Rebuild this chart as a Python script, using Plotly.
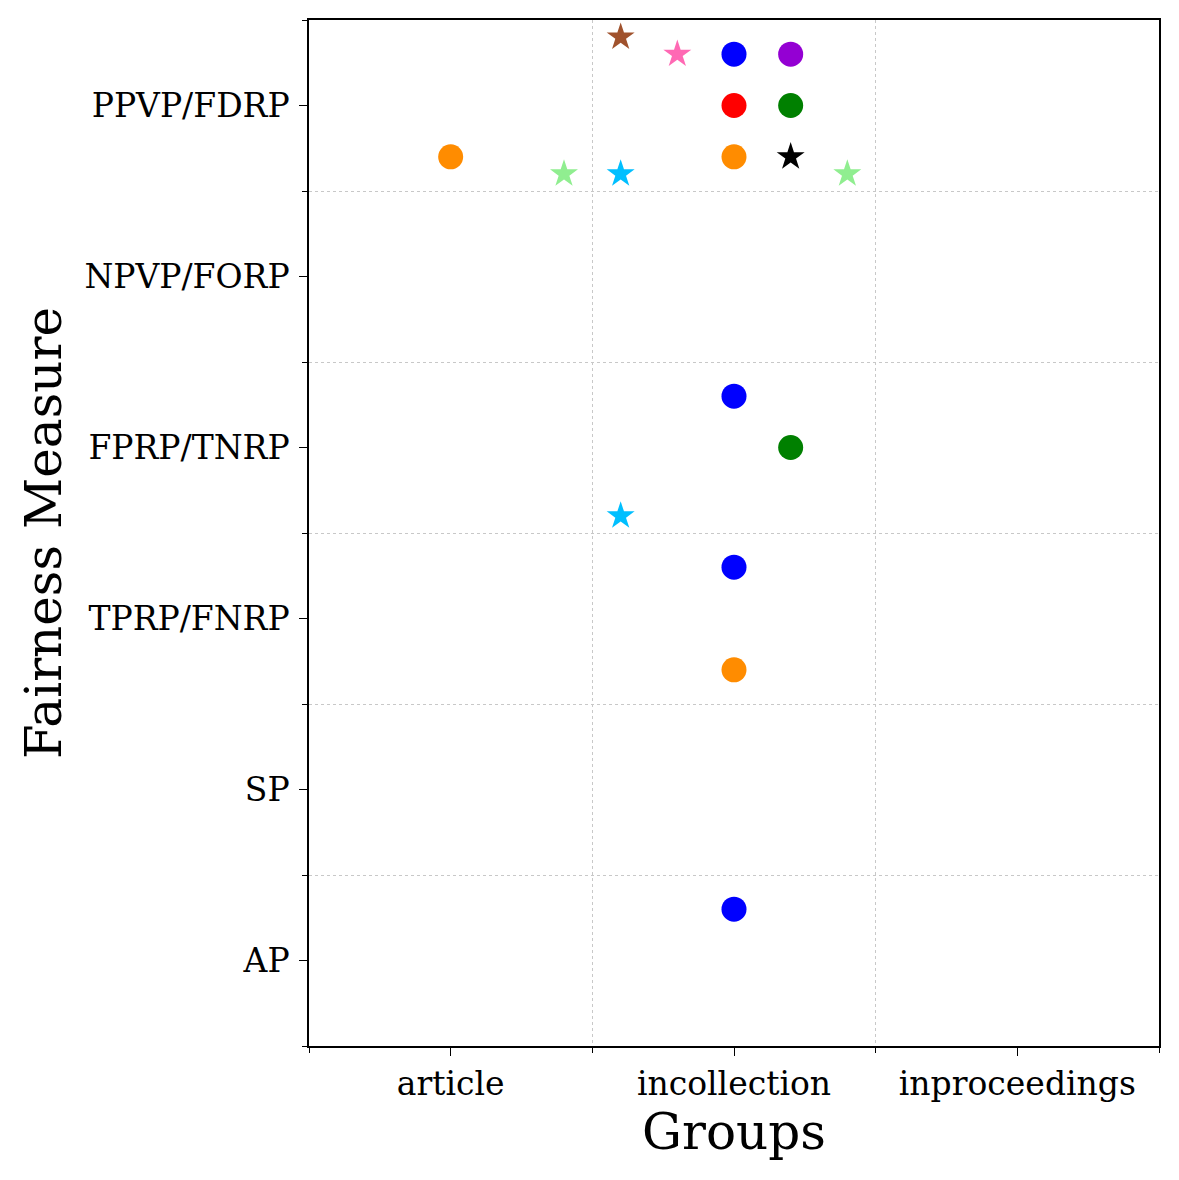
import plotly.graph_objects as go

groups = ["article", "incollection", "inproceedings"]
measures = ["AP", "SP", "TPRP/FNRP", "FPRP/TNRP", "NPVP/FORP", "PPVP/FDRP"]

# point positions (category index + offset)
x_pos = [0.6, 0.8, 1.0, 1.2, 1.0, 1.2, 0.0, 0.4, 0.6, 1.0, 1.2, 1.4, 1.0, 1.2, 0.6, 1.0, 1.0, 1.0]
y_pos = [5.4, 5.3, 5.3, 5.3, 5.0, 5.0, 4.7, 4.6, 4.6, 4.7, 4.7, 4.6, 3.3, 3.0, 2.6, 2.3, 1.7, 0.3]
colors = ["#A0522D", "#FF69B4", "blue", "#9400D3", "red", "green", "#FF8C00", "#90EE90",
          "#00BFFF", "#FF8C00", "black", "#90EE90", "blue", "green", "#00BFFF", "blue",
          "#FF8C00", "blue"]
symbols = ["star", "star", "circle", "circle", "circle", "circle", "circle", "star",
           "star", "circle", "star", "star", "circle", "circle", "star", "circle",
           "circle", "circle"]

fig = go.Figure()
for x, y, c, s in zip(x_pos, y_pos, colors, symbols):
    fig.add_trace(go.Scatter(
        x=[x], y=[y], mode="markers",
        marker=dict(color=c, symbol=s, size=25 if s == "circle" else 21,
                    line=dict(width=0)),
        showlegend=False))

font_fam = "DejaVu Serif"
fig.update_layout(
    width=1163, height=1164,
    margin=dict(l=301, r=10, t=11, b=126),
    paper_bgcolor="white", plot_bgcolor="white",
    font=dict(family=font_fam, color="black"),
)
fig.update_xaxes(
    range=[-0.5, 2.5], tickvals=list(range(len(groups))), ticktext=groups,
    showgrid=False, zeroline=False, showline=True, linecolor="black", linewidth=1.5,
    mirror=True, ticks="outside", ticklen=8, tickwidth=1.2, tickcolor="black",
    tickfont=dict(size=33, family=font_fam),
    title=dict(text="Groups", font=dict(size=50, family=font_fam), standoff=3),
    minor=dict(tick0=0.5, dtick=1, ticks="outside", ticklen=5, tickwidth=1.2,
               tickcolor="black", showgrid=True, gridcolor="#c8c8c8",
               griddash="dot", gridwidth=1.4),
)
fig.update_yaxes(
    range=[-0.5, 5.5], tickvals=list(range(len(measures))), ticktext=measures,
    showgrid=False, zeroline=False, showline=True, linecolor="black", linewidth=1.5,
    mirror=True, ticks="outside", ticklen=8, tickwidth=1.2, tickcolor="black",
    tickfont=dict(size=33, family=font_fam), ticklabelstandoff=3,
    title=dict(text="Fairness Measure", font=dict(size=50, family=font_fam), standoff=7),
    minor=dict(tick0=0.5, dtick=1, ticks="outside", ticklen=5, tickwidth=1.2,
               tickcolor="black", showgrid=True, gridcolor="#c8c8c8",
               griddash="dot", gridwidth=1.4),
)

fig.write_html("out.html")
